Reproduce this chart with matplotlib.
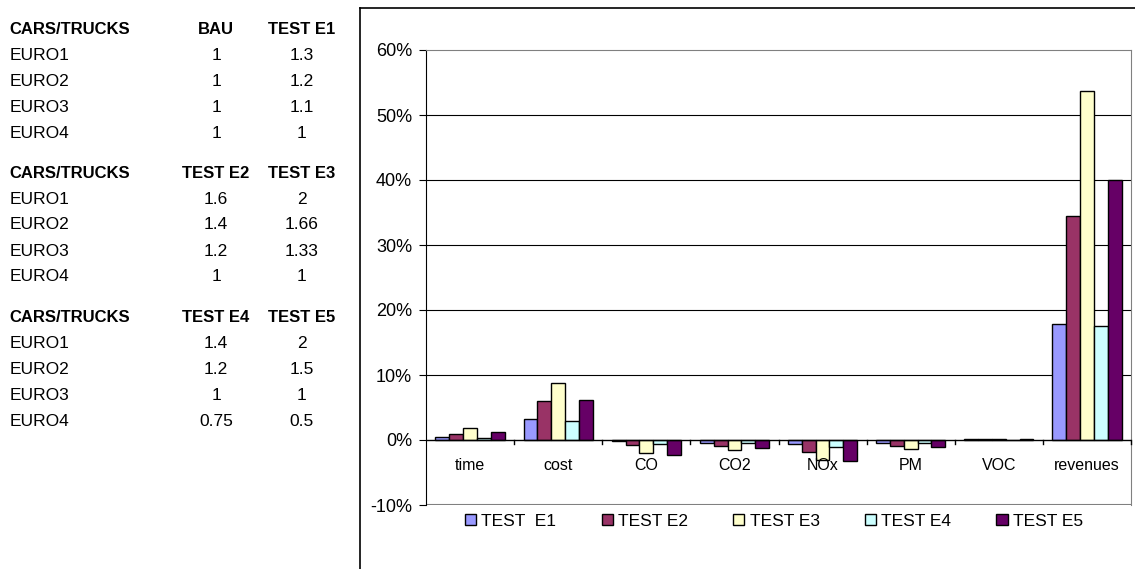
import numpy as np
import matplotlib.pyplot as plt
from matplotlib.lines import Line2D

plt.rcParams['font.family'] = ['Liberation Sans', 'DejaVu Sans']

#############################################
# Data
#############################################
categories = ['time', 'cost', 'CO', 'CO2', 'NOx', 'PM', 'VOC', 'revenues']
series_names = ['TEST  E1', 'TEST E2', 'TEST E3', 'TEST E4', 'TEST E5']
test_e1 = [0.5, 3.2, -0.2, -0.4, -0.6, -0.4, 0.15, 17.8]
test_e2 = [0.9, 6.0, -0.7, -0.9, -1.8, -0.9, 0.15, 34.5]
test_e3 = [1.8, 8.8, -2.0, -1.6, -3.1, -1.4, 0.15, 53.7]
test_e4 = [0.25, 3.0, -0.6, -0.4, -1.1, -0.5, 0.0, 17.6]
test_e5 = [1.2, 6.2, -2.3, -1.2, -3.2, -1.1, 0.15, 40.0]
series_colors = ['#9999FF', '#993366', '#FFFFCC', '#CCFFFF', '#660066']

yticks = [-10, 0, 10, 20, 30, 40, 50, 60]

# side table (three blocks)
row_labels = ['EURO1', 'EURO2', 'EURO3', 'EURO4']
block_headers = [('BAU', 'TEST E1'), ('TEST E2', 'TEST E3'), ('TEST E4', 'TEST E5')]
block_col1 = [['1', '1', '1', '1'], ['1.6', '1.4', '1.2', '1'], ['1.4', '1.2', '1', '0.75']]
block_col2 = [['1.3', '1.2', '1.1', '1'], ['2', '1.66', '1.33', '1'], ['2', '1.5', '1', '0.5']]

#############################################
W, H = 1135, 569
fig = plt.figure(figsize=(W / 100, H / 100), dpi=100)


def fx(x):
    return x / W


def fy(y):
    return 1 - y / H


# table text
header_y = [30, 173, 318]
row_dy = [26, 52, 78, 104]
for b in range(3):
    y0 = header_y[b]
    fig.text(fx(9), fy(y0), 'CARS/TRUCKS', fontsize=12, fontweight='bold', va='center', ha='left')
    fig.text(fx(216), fy(y0), block_headers[b][0], fontsize=12, fontweight='bold', va='center', ha='center')
    fig.text(fx(302), fy(y0), block_headers[b][1], fontsize=12, fontweight='bold', va='center', ha='center')
    for i, lab in enumerate(row_labels):
        yy = y0 + row_dy[i]
        fig.text(fx(10), fy(yy), lab, fontsize=12.5, va='center', ha='left')
        fig.text(fx(216), fy(yy), block_col1[b][i], fontsize=12.5, va='center', ha='center')
        fig.text(fx(302), fy(yy), block_col2[b][i], fontsize=12.5, va='center', ha='center')

# outer chart frame (left + top edges visible)
fig.add_artist(Line2D([fx(360), fx(360)], [fy(8), 0], color='black', lw=1.2))
fig.add_artist(Line2D([fx(360), 1], [fy(8), fy(8)], color='black', lw=1.2))

# plot area
ax = fig.add_axes([fx(426), fy(505), fx(1131) - fx(426), fy(50) - fy(505)])
all_series = [test_e1, test_e2, test_e3, test_e4, test_e5]
x = np.arange(len(categories))
bw = 0.157
for k, vals in enumerate(all_series):
    ax.bar(x + (k - 2) * bw, vals, width=bw, color=series_colors[k], edgecolor='black',
           linewidth=1.0, label=series_names[k], zorder=3)

ax.set_xlim(-0.5, len(categories) - 0.5)
ax.set_ylim(-10, 60)
ax.set_yticks(yticks)
ax.set_yticklabels([f'{v}%' for v in yticks], fontsize=13)
for v in yticks[2:-1]:
    ax.axhline(v, color='black', lw=0.8, zorder=1)

ax.spines['top'].set_color('#808080')
ax.spines['right'].set_color('#808080')
ax.spines['bottom'].set_visible(False)
ax.axhline(-10, color='#808080', lw=1.5, zorder=1)
ax.spines['left'].set_color('black')
ax.axhline(0, color='black', lw=1.0, zorder=4)

# category labels just under the zero line
ax.set_xticks([])
for i, c in enumerate(categories):
    ax.text(i, -3.9, c, ha='center', va='center', fontsize=11.5, zorder=5)
# boundary ticks on zero line
for b in np.arange(0.5, len(categories), 1.0):
    ax.plot([b, b], [0, -0.6], color='black', lw=1.0, zorder=4, clip_on=False)
ax.tick_params(axis='y', direction='out', length=5, pad=5)

fig.legend(loc='center', bbox_to_anchor=(fx(774), fy(521)), ncol=5, frameon=False,
           fontsize=12.5, handlelength=0.65, handleheight=0.65, handletextpad=0.3,
           columnspacing=2.6)

fig.savefig('out.png', dpi=100)
